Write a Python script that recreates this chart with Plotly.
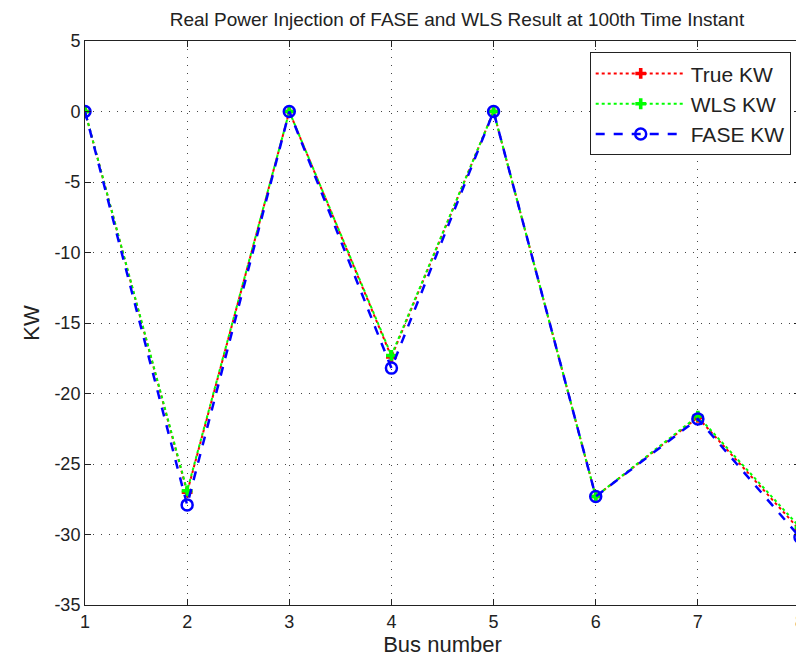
import plotly.graph_objects as go

buses = [1, 2, 3, 4, 5, 6, 7, 8]
true_kw = [0, -27.0, 0, -17.4, 0, -27.3, -21.7, -29.7]
wls_kw = [0, -26.9, 0, -17.3, 0, -27.3, -21.6, -29.5]
fase_kw = [0, -27.9, 0, -18.2, 0, -27.3, -21.8, -30.2]
y_ticks = [5, 0, -5, -10, -15, -20, -25, -30, -35]
y_tick_text = ["5", "0", "-5", "-10", "-15", "-20", "-25", "-30", "-35"]

fig = go.Figure()
fig.add_trace(go.Scatter(
    x=buses, y=true_kw, name="True KW", mode="lines+markers",
    line=dict(color="#ff0000", width=2, dash="dot"),
    marker=dict(symbol="cross", size=9, color="#ff0000")))
fig.add_trace(go.Scatter(
    x=buses, y=wls_kw, name="WLS KW", mode="lines+markers",
    line=dict(color="#00ff00", width=2, dash="dot"),
    marker=dict(symbol="cross", size=9, color="#00ff00")))
fig.add_trace(go.Scatter(
    x=buses, y=fase_kw, name="FASE KW", mode="lines+markers",
    line=dict(color="#0000ff", width=2.5, dash="dash"),
    marker=dict(symbol="circle-open", size=11, color="#0000ff", line=dict(width=2.5))))

fam = "Liberation Sans, Arial, sans-serif"
fig.update_layout(
    width=796, height=658,
    margin=dict(l=77, r=4, t=33, b=61),
    paper_bgcolor="white", plot_bgcolor="white",
    font=dict(family=fam, size=18, color="#222"),
    title=dict(text="Real Power Injection of FASE and WLS Result at 100th Time Instant",
               x=0.564, xanchor="center", y=0.982, yanchor="middle",
               font=dict(size=19)),
    legend=dict(x=0.987, xanchor="right", y=0.98, yanchor="top",
                bordercolor="#222", borderwidth=1, bgcolor="white",
                font=dict(size=21), tracegroupgap=2, itemwidth=90),
    showlegend=True,
)
fig.update_xaxes(
    range=[1, 8], tickvals=buses, ticks="inside", ticklen=6, tickcolor="#222",
    showline=True, linecolor="#222", linewidth=1, mirror="ticks",
    showgrid=True, gridcolor="#444", griddash="1px,7px", gridwidth=1, zeroline=False,
    automargin=False, ticklabeloverflow="allow",
    title=dict(text="Bus number", standoff=2), tickfont=dict(size=18))
fig.update_yaxes(
    range=[-35, 5], tickvals=y_ticks, ticktext=y_tick_text,
    ticks="inside", ticklen=6, tickcolor="#222",
    showline=True, linecolor="#222", linewidth=1, mirror="ticks",
    showgrid=True, gridcolor="#444", griddash="1px,7px", gridwidth=1, zeroline=False,
    automargin=False,
    title=dict(text="KW", standoff=8), tickfont=dict(size=18))

fig.write_html("out.html")
